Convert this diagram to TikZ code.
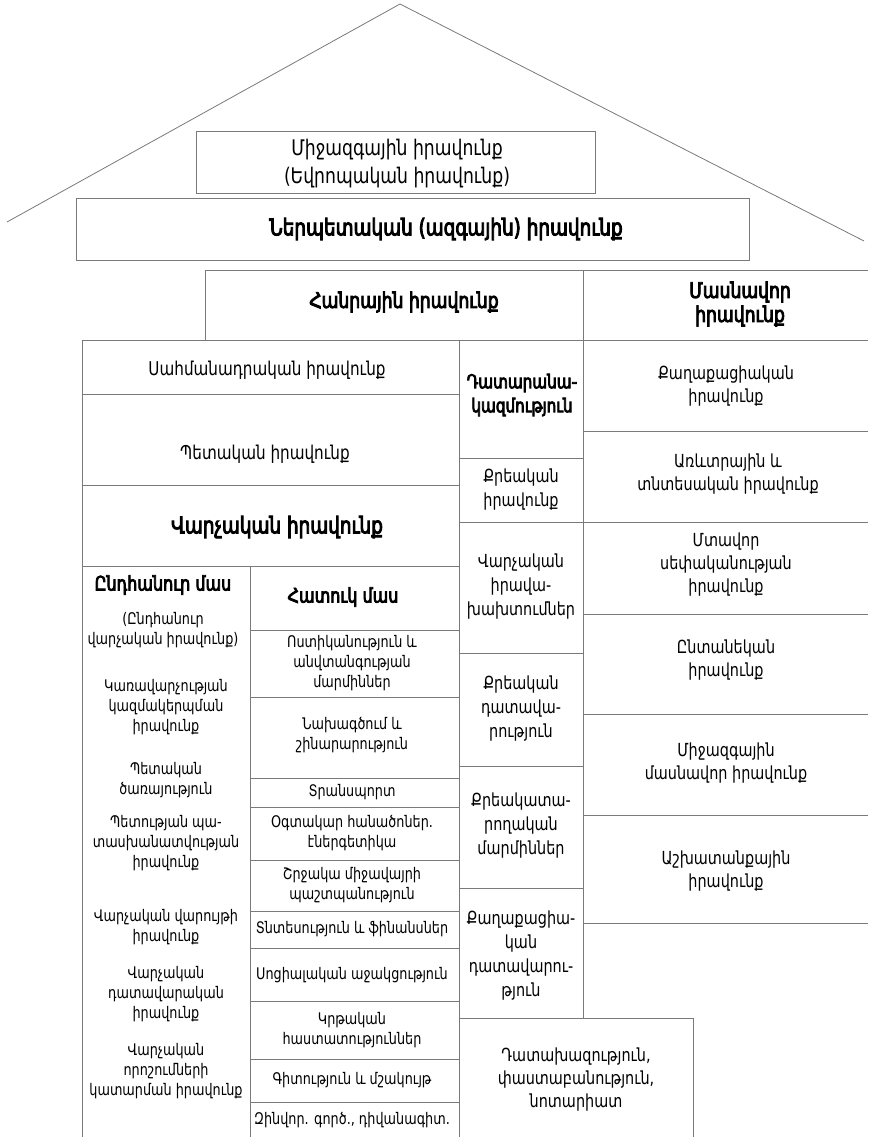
\documentclass[tikz,border=0pt]{standalone}
\usepackage{fontspec}
\setmainfont{DejaVu Sans}[FakeStretch=0.8]
\newfontfamily\bsans{DejaVu Sans}[FakeStretch=0.8,FakeBold=4]
\definecolor{lc}{HTML}{7A7A7A}
\begin{document}
\begin{tikzpicture}[x=1pt,y=-1pt,
  ln/.style={draw=lc,line width=1pt},
  roof/.style={draw=lc,line width=0.8pt},
  tx/.style={inner sep=0pt,align=center,text=black},
  fBig/.style={tx,font=\bsans\fontsize{23}{28}\selectfont},
  fMid/.style={tx,font=\bsans\fontsize{21.5}{24}\selectfont},
  fBox/.style={tx,font=\fontsize{21.5}{28}\selectfont},
  fTop/.style={tx,font=\fontsize{19}{25}\selectfont},
  fCol/.style={tx,font=\fontsize{18}{23}\selectfont},
  fColM/.style={tx,font=\fontsize{18}{24}\selectfont},
  fColB/.style={tx,font=\bsans\fontsize{19}{24}\selectfont},
  fSm/.style={tx,font=\fontsize{16}{20}\selectfont},
  fSmB/.style={tx,font=\bsans\fontsize{20}{22}\selectfont}]
\useasboundingbox (0,0) rectangle (868,1137);
\fill[white] (0,0) rectangle (868,1137);
% roof
\draw[roof] (7,222) -- (400,4) -- (864,241);
% top boxes
\draw[ln] (196,132) rectangle (595,193);
\draw[ln] (76,198) rectangle (749,260);
% public / private row
\draw[ln] (205,340) -- (205,270) -- (868,270);
\draw[ln] (583,270) -- (583,340);
\draw[ln] (82,340) -- (868,340);
% left main column
\draw[ln] (82,340) -- (82,1137);
\draw[ln] (459,340) -- (459,1137);
\foreach \y in {394,485,566} \draw[ln] (82,\y) -- (459,\y);
\draw[ln] (250,566) -- (250,1137);
\foreach \y in {630,697,778,807,860,911,948,1001,1059,1102} \draw[ln] (250,\y) -- (459,\y);
% middle column
\draw[ln] (583,340) -- (583,1018);
\foreach \y in {458,522,653,766,888} \draw[ln] (459,\y) -- (583,\y);
\draw[ln] (459,1018) -- (693,1018) -- (693,1137);
% right column
\foreach \y in {431,522,614,714,815,923} \draw[ln] (583,\y) -- (868,\y);

% texts
\node[fBox] (mij) at (397,164) {Միջազգային իրավունք\\(Եվրոպական իրավունք)};
\node[fBig] (nerp) at (446,229) {Ներպետական (ազգային) իրավունք};
\node[fMid] (hanr) at (404,302) {Հանրային իրավունք};
\node[fMid] (masn) at (740,304) {Մասնավոր\\իրավունք};
\node[fTop] (sahm) at (267,370) {Սահմանադրական իրավունք};
\node[fTop] (pet) at (265,454) {Պետական իրավունք};
\node[fBig] (varch) at (277,527) {Վարչական իրավունք};
% general part
\node[fSmB] (ynd) at (163,585) {Ընդհանուր մաս};
\node[fSm] (ynd2) at (163,630) {(Ընդհանուր\\վարչական իրավունք)};
\node[fSm] (kar) at (166,707) {Կառավարչության\\կազմակերպման\\իրավունք};
\node[fSm] (petc) at (166,780) {Պետական\\ծառայություն};
\node[fSm] (petr) at (166,843) {Պետության պա-\\տասխանատվության\\իրավունք};
\node[fSm] (varv) at (166,927) {Վարչական վարույթի\\իրավունք};
\node[fSm] (vard) at (166,994) {Վարչական\\դատավարական\\իրավունք};
\node[fSm] (varo) at (166,1071) {Վարչական\\որոշումների\\կատարման իրավունք};
% special part
\node[fSmB] (hat) at (343,597) {Հատուկ մաս};
\node[fSm] (ost) at (352,663) {Ոստիկանություն և\\անվտանգության\\մարմիններ};
\node[fSm] (nax) at (352,735) {Նախագծում և\\շինարարություն};
\node[fSm] (tra) at (352,792) {Տրանսպորտ};
\node[fSm] (ogt) at (352,833) {Օգտակար հանածոներ.\\էներգետիկա};
\node[fSm] (shr) at (352,885) {Շրջակա միջավայրի\\պաշտպանություն};
\node[fSm] (tnt) at (352,929) {Տնտեսություն և ֆինանսներ};
\node[fSm] (soc) at (352,975) {Սոցիալական աջակցություն};
\node[fSm] (krt) at (352,1030) {Կրթական\\հաստատություններ};
\node[fSm] (git) at (352,1080) {Գիտություն և մշակույթ};
\node[fSm] (zin) at (352,1120) {Զինվոր. գործ., դիվանագիտ.};
% middle column
\node[fColB] (dat) at (522,395) {Դատարանա-\\կազմություն};
\node[fColM] (kri) at (521,490) {Քրեական\\իրավունք};
\node[fColM] (vip) at (521,587) {Վարչական\\իրավա-\\խախտումներ};
\node[fColM] (krd) at (521,709) {Քրեական\\դատավա-\\րություն};
\node[fColM] (krk) at (521,826) {Քրեակատա-\\րողական\\մարմիններ};
\node[fColM] (qad) at (521,956) {Քաղաքացիա-\\կան\\դատավարու-\\թյուն};
\node[fCol] (dax) at (576,1080) {Դատախազություն,\\փաստաբանություն,\\նոտարիատ};
% right column
\node[fCol] (qai) at (726,386) {Քաղաքացիական\\իրավունք};
\node[fCol] (arv) at (728,474) {Առևտրային և\\տնտեսական իրավունք};
\node[fCol] (mta) at (726,565) {Մտավոր\\սեփականության\\իրավունք};
\node[fCol] (ynt) at (726,660) {Ընտանեկան\\իրավունք};
\node[fCol] (mjm) at (726,763) {Միջազգային\\մասնավոր իրավունք};
\node[fCol] (asx) at (726,871) {Աշխատանքային\\իրավունք};
\end{tikzpicture}
\end{document}
